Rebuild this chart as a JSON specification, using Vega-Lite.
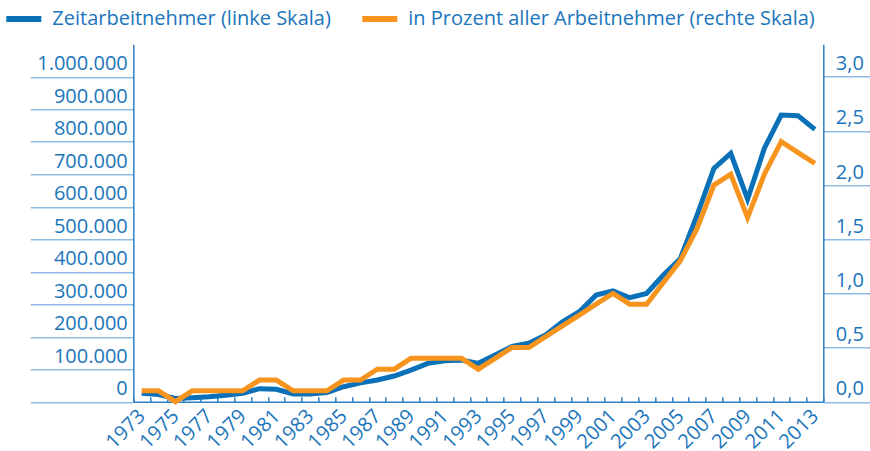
{
  "$schema": "https://vega.github.io/schema/vega-lite/v6.json",
  "width": 690,
  "height": 357.5,
  "autosize": {"type": "none"},
  "padding": {"left": 133.3, "top": 44.2, "right": 46.7, "bottom": 49.3},
  "config": {
    "locale": {"number": {"decimal": ",", "thousands": ".", "grouping": [3], "currency": ["", " €"]}},
    "view": {"stroke": null},
    "font": "Open Sans"
  },
  "data": {
    "values": [
      {"year": 1973, "zeit": 26000, "pct": 0.1},
      {"year": 1974, "zeit": 22000, "pct": 0.1},
      {"year": 1975, "zeit": 10000, "pct": 0.0},
      {"year": 1976, "zeit": 12000, "pct": 0.1},
      {"year": 1977, "zeit": 15000, "pct": 0.1},
      {"year": 1978, "zeit": 20000, "pct": 0.1},
      {"year": 1979, "zeit": 26000, "pct": 0.1},
      {"year": 1980, "zeit": 40000, "pct": 0.2},
      {"year": 1981, "zeit": 38000, "pct": 0.2},
      {"year": 1982, "zeit": 24000, "pct": 0.1},
      {"year": 1983, "zeit": 24000, "pct": 0.1},
      {"year": 1984, "zeit": 28000, "pct": 0.1},
      {"year": 1985, "zeit": 46000, "pct": 0.2},
      {"year": 1986, "zeit": 58000, "pct": 0.2},
      {"year": 1987, "zeit": 67000, "pct": 0.3},
      {"year": 1988, "zeit": 79000, "pct": 0.3},
      {"year": 1989, "zeit": 97000, "pct": 0.4},
      {"year": 1990, "zeit": 118000, "pct": 0.4},
      {"year": 1991, "zeit": 126000, "pct": 0.4},
      {"year": 1992, "zeit": 128000, "pct": 0.4},
      {"year": 1993, "zeit": 118000, "pct": 0.3},
      {"year": 1994, "zeit": 144000, "pct": 0.4},
      {"year": 1995, "zeit": 170000, "pct": 0.5},
      {"year": 1996, "zeit": 180000, "pct": 0.5},
      {"year": 1997, "zeit": 205000, "pct": 0.6},
      {"year": 1998, "zeit": 246000, "pct": 0.7},
      {"year": 1999, "zeit": 277000, "pct": 0.8},
      {"year": 2000, "zeit": 328000, "pct": 0.9},
      {"year": 2001, "zeit": 341000, "pct": 1.0},
      {"year": 2002, "zeit": 320000, "pct": 0.9},
      {"year": 2003, "zeit": 333000, "pct": 0.9},
      {"year": 2004, "zeit": 390000, "pct": 1.1},
      {"year": 2005, "zeit": 440000, "pct": 1.3},
      {"year": 2006, "zeit": 574000, "pct": 1.6},
      {"year": 2007, "zeit": 718000, "pct": 2.0},
      {"year": 2008, "zeit": 764000, "pct": 2.1},
      {"year": 2009, "zeit": 623000, "pct": 1.7},
      {"year": 2010, "zeit": 780000, "pct": 2.1},
      {"year": 2011, "zeit": 882000, "pct": 2.4},
      {"year": 2012, "zeit": 880000, "pct": 2.3},
      {"year": 2013, "zeit": 838000, "pct": 2.2}
    ]
  },
  "encoding": {
    "x": {
      "field": "year",
      "type": "ordinal",
      "scale": {"type": "band", "paddingInner": 0, "paddingOuter": 0},
      "axis": {
        "orient": "bottom",
        "title": null,
        "tickBand": "extent",
        "tickSize": -5,
        "tickWidth": 1.5,
        "tickColor": "#2e7fc3",
        "domainColor": "#2e7fc3",
        "domainWidth": 1.5,
        "labelAngle": -45,
        "labelAlign": "right",
        "labelBaseline": "middle",
        "labelPadding": 16,
        "labelFontSize": 20,
        "labelColor": "#1b75bc",
        "labelOverlap": false,
        "labelExpr": "(datum.value - 1973) % 2 == 0 ? datum.label : ''"
      }
    }
  },
  "layer": [
    {
      "mark": {"type": "line", "strokeWidth": 5, "strokeJoin": "miter"},
      "encoding": {
        "y": {
          "field": "zeit",
          "type": "quantitative",
          "scale": {"domain": [0, 1100000], "nice": false},
          "axis": {
            "orient": "left",
            "title": null,
            "grid": false,
            "values": [0, 100000, 200000, 300000, 400000, 500000, 600000, 700000, 800000, 900000, 1000000],
            "format": ",d",
            "domainColor": "#2e7fc3",
            "domainWidth": 1.5,
            "tickColor": "#8fbbe3",
            "tickWidth": 1.5,
            "tickSize": 103,
            "labelAlign": "right",
            "labelBaseline": "alphabetic",
            "labelPadding": -97,
            "labelOffset": -7,
            "labelFontSize": 20,
            "labelColor": "#1b75bc"
          }
        },
        "color": {
          "datum": "Zeitarbeitnehmer (linke Skala)",
          "type": "nominal",
          "scale": {
            "domain": ["Zeitarbeitnehmer (linke Skala)", "in Prozent aller Arbeitnehmer (rechte Skala)"],
            "range": ["#0a70b8", "#f7941d"]
          },
          "legend": {
            "orient": "none",
            "legendX": -130,
            "legendY": -46,
            "direction": "horizontal",
            "title": null,
            "symbolType": "stroke",
            "symbolStrokeWidth": 6,
            "symbolSize": 1225,
            "labelFontSize": 20,
            "labelColor": "#1b75bc",
            "labelOffset": 8,
            "columnPadding": 19,
            "labelLimit": 600
          }
        }
      }
    },
    {
      "mark": {"type": "line", "strokeWidth": 5, "strokeJoin": "miter"},
      "encoding": {
        "y": {
          "field": "pct",
          "type": "quantitative",
          "scale": {"domain": [0, 3.3], "nice": false},
          "axis": {
            "orient": "right",
            "title": null,
            "grid": false,
            "values": [0, 0.5, 1, 1.5, 2, 2.5, 3],
            "format": ".1f",
            "domainColor": "#2e7fc3",
            "domainWidth": 1.5,
            "tickColor": "#8fbbe3",
            "tickWidth": 1.5,
            "tickSize": 50,
            "labelAlign": "left",
            "labelBaseline": "alphabetic",
            "labelPadding": -38,
            "labelOffset": -7,
            "labelFontSize": 20,
            "labelColor": "#1b75bc"
          }
        },
        "color": {"datum": "in Prozent aller Arbeitnehmer (rechte Skala)", "type": "nominal"}
      }
    }
  ],
  "resolve": {"scale": {"y": "independent"}}
}
